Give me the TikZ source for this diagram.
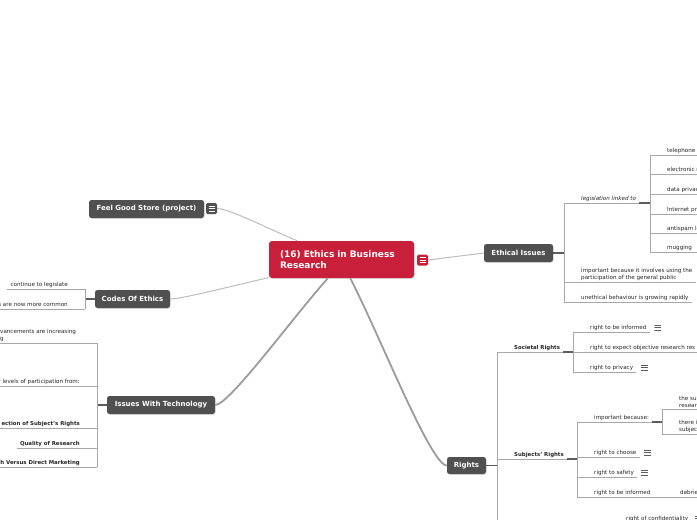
\documentclass[tikz,border=0pt]{standalone}
\usepackage{fontspec}
\setmainfont{DejaVu Sans}
\usetikzlibrary{positioning,shadows}
\definecolor{topicgray}{HTML}{505050}
\definecolor{rootred}{HTML}{C8203A}
\definecolor{limbgray}{HTML}{B8B8B8}
\definecolor{twiggray}{HTML}{A8A8A8}
\definecolor{stubgray}{HTML}{5C5C5C}
\newcommand\rootfont{\fontsize{9}{11}\selectfont\bfseries}
\newcommand\topicfont{\fontsize{7}{8.5}\selectfont\bfseries}
\newcommand\leaffont{\fontsize{5.6}{7}\selectfont}
\newcommand\subfont{\fontsize{5.4}{7}\selectfont\bfseries}
\tikzset{
  root/.style={fill=rootred,rounded corners=3pt,text=white,font=\rootfont,minimum width=145pt,minimum height=37pt,text width=123pt,inner xsep=11pt,align=left,drop shadow={shadow xshift=.6pt,shadow yshift=-.9pt,opacity=.25}},
  topic/.style={fill=topicgray,rounded corners=2.5pt,text=white,font=\topicfont,minimum height=18pt,inner xsep=0pt,drop shadow={shadow xshift=.6pt,shadow yshift=-.9pt,opacity=.25}},
  leaf/.style={font=\leaffont,text=black!85,inner xsep=3pt,inner ysep=1.5pt,text height=4.3pt,text depth=1.3pt},
  leaftwo/.style={font=\leaffont,text=black!85,inner xsep=3pt,inner ysep=1.5pt,align=left},
  subtopic/.style={leaf,font=\subfont},
  limb/.style={draw=limbgray,line width=.9pt},
  heavylimb/.style={draw=limbgray!85!black,line width=1.8pt},
  twig/.style={draw=twiggray,line width=.7pt},
  stub/.style={draw=stubgray,line width=1.1pt},
  noteicon/.style={fill=topicgray,rounded corners=1.5pt,minimum width=11pt,minimum height=11pt,inner sep=0pt,
    path picture={\foreach \dy in {-2.5,0,2.5} \draw[white,line width=.8pt] ([xshift=-3pt,yshift=\dy pt]path picture bounding box.center) -- ++(6pt,0);}},
  noteglyph/.style={minimum width=7pt,minimum height=7pt,inner sep=0pt,
    path picture={\foreach \dy in {-2.5,0,2.5} \draw[stubgray,line width=.6pt] ([xshift=-3.5pt,yshift=\dy pt]path picture bounding box.center) -- ++(7pt,0);}}
}
\begin{document}
\begin{tikzpicture}[x=1pt,y=-1pt]
\useasboundingbox (0,0) rectangle (697,520);
\fill[white] (0,0) rectangle (697,520);
\clip (0,0) rectangle (697,520);

% central topic
\node[root] (root) at (341.5,259.5) {(16) Ethics in Business\\Research};
\node[noteicon,fill=rootred] (rooticon) at (422.5,260) {};

% main topics
\node[topic,minimum width=115pt] (feel) at (146.5,209) {Feel Good Store (project)};
\node[noteicon] (feelicon) at (211.5,208.5) {};
\node[topic,minimum width=75pt] (codes) at (132.5,299) {Codes Of Ethics};
\node[topic,minimum width=108pt] (tech) at (161,405) {Issues With Technology};
\node[topic,minimum width=69pt] (ethic) at (518.5,253) {Ethical Issues};
\node[topic,minimum width=39pt,minimum height=17pt] (rights) at (466.5,465.5) {Rights};

\draw[limb] (root.157) .. controls +(-25,-10) and +(12,0) .. (feelicon.east);
\draw[limb] (root.194) .. controls +(-30,6.6) and +(12,0) .. (codes.east);
\draw[heavylimb] (root.234) .. controls +(-35,39) and +(14,0) .. (tech.east);
\draw[heavylimb] (root.295) .. controls +(29,56) and +(-16,0) .. (rights.west);
\draw[limb] (rooticon.east) -- (ethic.west);

% codes of ethics
\coordinate (codes-j) at (85,299);
\node[leaf,anchor=south east] (legis) at (71,289) {continue to legislate};
\node[leaf,anchor=south east] (common) at (71,309) {s are now more common};
\draw[stub] (codes.west) -- (codes-j);
\draw[twig] (codes-j |- legis.south) -- (codes-j |- common.south);
\draw[twig] (legis.south west) -- (codes-j |- legis.south);
\draw[twig] (common.south west) -- (codes-j |- common.south);

% issues with technology
\coordinate (tech-j) at (97,405);
\node[leaftwo,anchor=south west] (advance) at (-3,343) {vancements are increasing\\g};
\node[leaf,anchor=south east] (levels) at (83,386) {r levels of participation from:};
\node[subtopic,anchor=south east] (protect) at (83,428) {ection of Subject's Rights};
\node[subtopic,anchor=south east] (quality) at (83,448) {Quality of Research};
\node[subtopic,anchor=south east] (direct) at (83,467) {h Versus Direct Marketing};
\draw[stub] (tech.west) -- (tech-j);
\draw[twig] (tech-j |- advance.south) -- (tech-j |- direct.south);
\foreach \n in {advance,levels,protect,quality,direct}
  \draw[twig] (\n.south west) -- (tech-j |- \n.south);

% ethical issues
\coordinate (ethic-j) at (564,253);
\coordinate (linked-j) at (650,203);
\node[leaf,anchor=south west,font=\leaffont\itshape] (linked) at (578,203) {legislation linked to};
\node[leaftwo,anchor=south west] (public) at (578,282) {important because it involves using the\\participation of the general public};
\node[leaf,anchor=south west] (rapid) at (578,302) {unethical behaviour is growing rapidly};
\draw[stub] (ethic.east) -- (ethic-j);
\draw[twig] (ethic-j |- linked.south) -- (ethic-j |- rapid.south);
\foreach \n in {linked,public,rapid}
  \draw[twig] (ethic-j |- \n.south) -- (\n.south east);
\draw[stub] (linked.south east) -- (linked-j);
\node[leaf,anchor=south west] (phone) at (664,155) {telephone p};
\node[leaf,anchor=south west] (email) at (664,174) {electronic m};
\node[leaf,anchor=south west] (data) at (664,194) {data privac};
\node[leaf,anchor=south west] (inet) at (664,214) {Internet pr};
\node[leaf,anchor=south west] (spam) at (664,233) {antispam le};
\node[leaf,anchor=south west] (mug) at (664,252) {mugging};
\draw[twig] (linked-j |- phone.south) -- (linked-j |- mug.south);
\foreach \n in {phone,email,data,inet,spam,mug}
  \draw[twig] (linked-j |- \n.south) -- (697,0 |- \n.south);

% rights
\coordinate (rights-j) at (497,465.5);
\coordinate (rights-end) at (497,540);
\coordinate (soc-j) at (573,352);
\coordinate (subj-j) at (577,459);
\node[subtopic,anchor=south west] (societal) at (511,352) {Societal Rights};
\node[subtopic,anchor=south west] (subjects) at (511,459) {Subjects' Rights};
\draw[stub] (rights.east) -- (rights-j);
\draw[twig] (rights-j |- societal.south) -- (rights-end);
\foreach \n in {societal,subjects}
  \draw[twig] (rights-j |- \n.south) -- (\n.south east);
\draw[stub] (societal.south east) -- (soc-j);
\draw[stub] (subjects.south east) -- (subj-j);

% societal rights
\node[leaf,anchor=south west] (rinf) at (587,332) {right to be informed};
\node[leaf,anchor=south west] (rexp) at (587,352) {right to expect objective research res};
\node[leaf,anchor=south west] (rpriv) at (587,372) {right to privacy};
\node[noteglyph,right=4.5pt of rinf] (rinf-note) {};
\node[noteglyph,right=4.5pt of rpriv] (rpriv-note) {};
\draw[twig] (soc-j |- rinf.south) -- (soc-j |- rpriv.south);
\foreach \n in {rinf,rexp,rpriv}
  \draw[twig] (soc-j |- \n.south) -- (\n.south east);

% subjects' rights
\coordinate (impb-j) at (662,422);
\coordinate (rinf2-j) at (663,497);
\node[leaf,anchor=south west] (impb) at (591,422) {important because:};
\node[leaf,anchor=south west] (rcho) at (591,457) {right to choose};
\node[leaf,anchor=south west] (rsaf) at (591,477) {right to safety};
\node[leaf,anchor=south west] (rinf2) at (591,497) {right to be informed};
\node[noteglyph,right=4pt of rcho] (rcho-note) {};
\node[noteglyph,right=4pt of rsaf] (rsaf-note) {};
\draw[twig] (subj-j |- impb.south) -- (subj-j |- rinf2.south);
\foreach \n in {impb,rcho,rsaf,rinf2}
  \draw[twig] (subj-j |- \n.south) -- (\n.south east);
\draw[stub] (impb.south east) -- (impb-j);
\draw[twig] (rinf2.south east) -- (rinf2-j);
\node[leaftwo,anchor=south west] (sub1) at (676,409) {the sub\\researc};
\node[leaftwo,anchor=south west] (sub2) at (676,434) {there i\\subject};
\draw[twig] (impb-j |- sub1.south) -- (impb-j |- sub2.south);
\foreach \n in {sub1,sub2}
  \draw[twig] (impb-j |- \n.south) -- (697,0 |- \n.south);
\node[leaf,anchor=south west] (debrief) at (677,497) {debrie};
\draw[twig] (rinf2-j) -- (697,0 |- debrief.south);

% further rights
\coordinate (conf-j) at (609,523);
\node[leaf,anchor=south west] (conf) at (623,523) {right of confidentiality};
\node[noteglyph,right=3pt of conf] (conf-note) {};
\draw[twig] (conf-j) -- (conf.south east);
\end{tikzpicture}
\end{document}
